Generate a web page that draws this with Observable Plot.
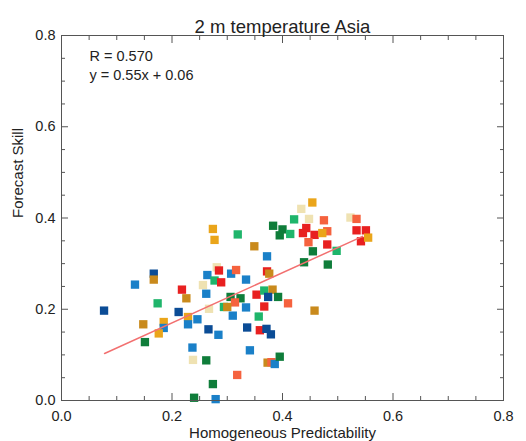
<!DOCTYPE html>
<html>
<head>
<meta charset="utf-8">
<script src="https://cdn.jsdelivr.net/npm/d3@7"></script>
<script src="https://cdn.jsdelivr.net/npm/@observablehq/plot@0.6"></script>
<style>
  html, body { margin: 0; padding: 0; background: white; }
  svg { display: block; }
</style>
</head>
<body>
<div id="chart"></div>
<script>
const title = "2 m temperature Asia";
const xLabel = "Homogeneous Predictability";
const yLabel = "Forecast Skill";
const statR = "R = 0.570";
const statEq = "y = 0.55x + 0.06";
const slope = 0.55;
const intercept = 0.06;
const lineExtent = [0.078, 0.545];
const majorTicks = [0, 0.2, 0.4, 0.6, 0.8];
const minorTicks = [0.05, 0.1, 0.15, 0.25, 0.3, 0.35, 0.45, 0.5, 0.55, 0.65, 0.7, 0.75];

const xs = [0.077,0.133,0.167,0.167,0.174,0.148,0.151,0.185,0.185,0.176,0.212,0.218,0.226,0.229,0.229,0.246,0.256,0.262,0.264,0.267,0.266,0.284,0.237,0.238,0.262,0.274,0.240,0.279,0.318,0.274,0.277,0.319,0.349,0.281,0.285,0.277,0.289,0.307,0.316,0.334,0.306,0.324,0.314,0.294,0.300,0.310,0.334,0.353,0.357,0.336,0.359,0.341,0.372,0.372,0.376,0.367,0.382,0.374,0.392,0.367,0.410,0.371,0.379,0.373,0.380,0.386,0.395,0.458,0.383,0.400,0.395,0.414,0.421,0.434,0.454,0.448,0.475,0.443,0.437,0.458,0.447,0.481,0.472,0.481,0.455,0.498,0.439,0.482,0.523,0.534,0.534,0.551,0.542,0.555];
const ys = [0.197,0.254,0.278,0.265,0.213,0.167,0.128,0.172,0.159,0.147,0.194,0.243,0.224,0.183,0.167,0.178,0.253,0.234,0.275,0.201,0.156,0.144,0.116,0.089,0.088,0.036,0.006,0.003,0.056,0.376,0.352,0.364,0.338,0.292,0.285,0.263,0.259,0.278,0.286,0.265,0.227,0.224,0.215,0.205,0.205,0.186,0.204,0.232,0.184,0.160,0.154,0.110,0.316,0.283,0.278,0.241,0.243,0.227,0.227,0.206,0.213,0.157,0.145,0.083,0.084,0.080,0.096,0.197,0.383,0.375,0.362,0.365,0.397,0.420,0.434,0.398,0.395,0.378,0.367,0.363,0.347,0.371,0.367,0.342,0.327,0.328,0.303,0.298,0.401,0.398,0.373,0.373,0.349,0.357];
const groups = ["g1","g2","g1","g6","g4","g6","g3","g5","g2","g5","g1","g8","g6","g5","g2","g2","g7","g2","g2","g7","g1","g2","g2","g7","g3","g3","g3","g2","g9","g5","g5","g4","g6","g7","g8","g4","g8","g2","g9","g2","g3","g3","g9","g4","g6","g2","g2","g8","g4","g1","g8","g2","g2","g8","g6","g4","g6","g1","g3","g8","g9","g1","g1","g6","g9","g2","g3","g6","g3","g3","g3","g4","g4","g7","g5","g7","g9","g8","g8","g8","g9","g9","g5","g8","g3","g4","g3","g3","g7","g9","g8","g8","g8","g5"];
const groupNames = ["g1","g2","g3","g4","g5","g6","g7","g8","g9"];
const groupColors = ["#0b4c96","#1a80c8","#0f7d3a","#1fb56b","#eaa51a","#c98a1c","#efe2b2","#e82020","#f5623e"];

const points = xs.map((x, i) => ({x, y: ys[i], g: groups[i]}));
const fitLine = lineExtent.map(x => ({x, y: slope * x + intercept}));
const fmt = d3.format(".1f");
const axisColor = "#555";

const chart = Plot.plot({
  width: 526,
  height: 441,
  marginLeft: 61,
  marginRight: 23,
  marginTop: 35,
  marginBottom: 41,
  style: {fontFamily: "'Liberation Sans', Arial, sans-serif", background: "white", color: "#222"},
  x: {domain: [0, 0.8]},
  y: {domain: [0, 0.8]},
  color: {type: "ordinal", domain: groupNames, range: groupColors},
  marks: [
    Plot.dot(points, {x: "x", y: "y", fill: "g", symbol: "square", r: 4.7}),
    Plot.line(fitLine, {x: "x", y: "y", stroke: "#f27070", strokeWidth: 1.5}),
    Plot.frame({stroke: axisColor}),
    Plot.axisX(majorTicks, {anchor: "bottom", tickSize: 0, tickPadding: 10, tickFormat: fmt, fontSize: 14.5, label: null}),
    Plot.axisY(majorTicks, {anchor: "left", tickSize: 0, tickPadding: 6, tickFormat: fmt, fontSize: 14.5, label: null}),
    Plot.axisX(majorTicks, {anchor: "bottom", tickSize: -7, tickFormat: () => "", stroke: axisColor, label: null}),
    Plot.axisX(majorTicks, {anchor: "top", tickSize: -7, tickFormat: () => "", stroke: axisColor, label: null}),
    Plot.axisY(majorTicks, {anchor: "left", tickSize: -7, tickFormat: () => "", stroke: axisColor, label: null}),
    Plot.axisY(majorTicks, {anchor: "right", tickSize: -7, tickFormat: () => "", stroke: axisColor, label: null}),
    Plot.axisX(minorTicks, {anchor: "bottom", tickSize: -4, tickFormat: () => "", stroke: axisColor, label: null}),
    Plot.axisX(minorTicks, {anchor: "top", tickSize: -4, tickFormat: () => "", stroke: axisColor, label: null}),
    Plot.axisY(minorTicks, {anchor: "left", tickSize: -4, tickFormat: () => "", stroke: axisColor, label: null}),
    Plot.axisY(minorTicks, {anchor: "right", tickSize: -4, tickFormat: () => "", stroke: axisColor, label: null}),
    Plot.text([title], {frameAnchor: "top", dy: -16, fontSize: 18.5, fill: "#222"}),
    Plot.text([xLabel], {frameAnchor: "bottom", lineAnchor: "top", dy: 27, fontSize: 15, fill: "#222"}),
    Plot.text([yLabel], {frameAnchor: "left", dx: -43, rotate: -90, fontSize: 15, fill: "#222"}),
    Plot.text([statR], {frameAnchor: "top-left", dx: 28, dy: 15, textAnchor: "start", fontSize: 14.5, fill: "#222"}),
    Plot.text([statEq], {frameAnchor: "top-left", dx: 28, dy: 34, textAnchor: "start", fontSize: 14.5, fill: "#222"})
  ]
});
document.getElementById("chart").appendChild(chart);
</script>
</body>
</html>
